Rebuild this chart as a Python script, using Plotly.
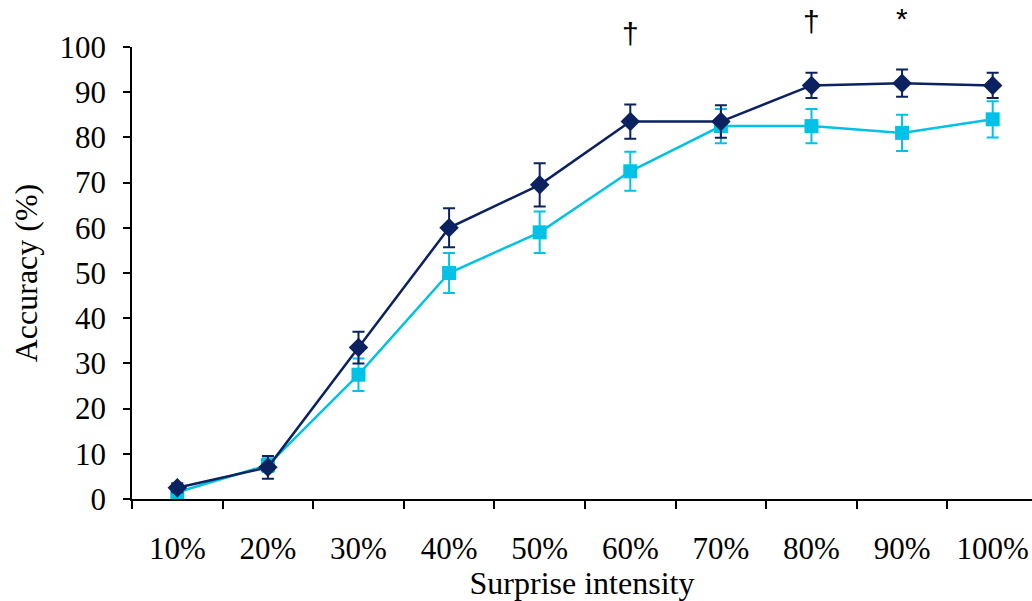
import plotly.graph_objects as go

categories = ["10%", "20%", "30%", "40%", "50%", "60%", "70%", "80%", "90%", "100%"]
dark_vals = [2.5, 7.0, 33.5, 60.0, 69.5, 83.5, 83.5, 91.5, 92.0, 91.5]
dark_err = [1.0, 2.5, 3.5, 4.3, 4.8, 3.8, 3.6, 2.8, 3.0, 2.8]
light_vals = [1.5, 7.5, 27.5, 50.0, 59.0, 72.5, 82.5, 82.5, 81.0, 84.0]
light_err = [1.0, 1.5, 3.6, 4.4, 4.6, 4.3, 3.8, 3.8, 4.0, 4.0]
mark_cats = ["60%", "80%", "90%"]
mark_text = ["†", "†", "*"]
mark_pos = [1.030, 1.057, 1.062]

dark = "#0b2160"
light = "#00c2e6"
font = "Liberation Serif"

fig = go.Figure()
fig.add_trace(go.Scatter(
    x=categories, y=light_vals, mode="lines+markers",
    line=dict(color=light, width=2.5),
    marker=dict(symbol="square", size=14, color=light),
    error_y=dict(type="data", array=light_err, color=light, thickness=2, width=6),
    showlegend=False, cliponaxis=False,
))
fig.add_trace(go.Scatter(
    x=categories, y=dark_vals, mode="lines+markers",
    line=dict(color=dark, width=2.5),
    marker=dict(symbol="diamond", size=15, color=dark),
    error_y=dict(type="data", array=dark_err, color=dark, thickness=2, width=6),
    showlegend=False, cliponaxis=False,
))

for c, t, p in zip(mark_cats, mark_text, mark_pos):
    fig.add_annotation(x=c, y=p, xref="x", yref="paper", text=t, showarrow=False,
                       font=dict(family="Liberation Sans", size=30, color="black"),
                       yanchor="middle")

fig.update_layout(
    width=1032, height=601,
    margin=dict(l=132, r=0, t=47, b=102),
    plot_bgcolor="white", paper_bgcolor="white",
    font=dict(family=font, size=31, color="black"),
    xaxis=dict(
        type="category", tickson="boundaries", ticks="outside", ticklen=8,
        tickwidth=1.5, tickcolor="black",
        showline=True, linecolor="black", linewidth=1.5,
        showgrid=False, ticklabelstandoff=21, automargin=False,
        title=dict(text="Surprise intensity", standoff=7, font=dict(size=32)),
        range=[-0.5, 9.434], tickfont=dict(size=31),
    ),
    yaxis=dict(
        range=[0, 100], dtick=10, ticks="outside", ticklen=7, tickwidth=1.5,
        tickcolor="black", showline=True, linecolor="black", linewidth=1.5,
        showgrid=False, zeroline=False, ticklabelstandoff=11, automargin=False,
        title=dict(text="Accuracy (%)", standoff=12, font=dict(size=32)),
        tickfont=dict(size=31),
    ),
)

fig.write_html("out.html", config={"displayModeBar": False},
               post_script="document.body.style.margin='0';document.body.style.overflow='hidden';")
